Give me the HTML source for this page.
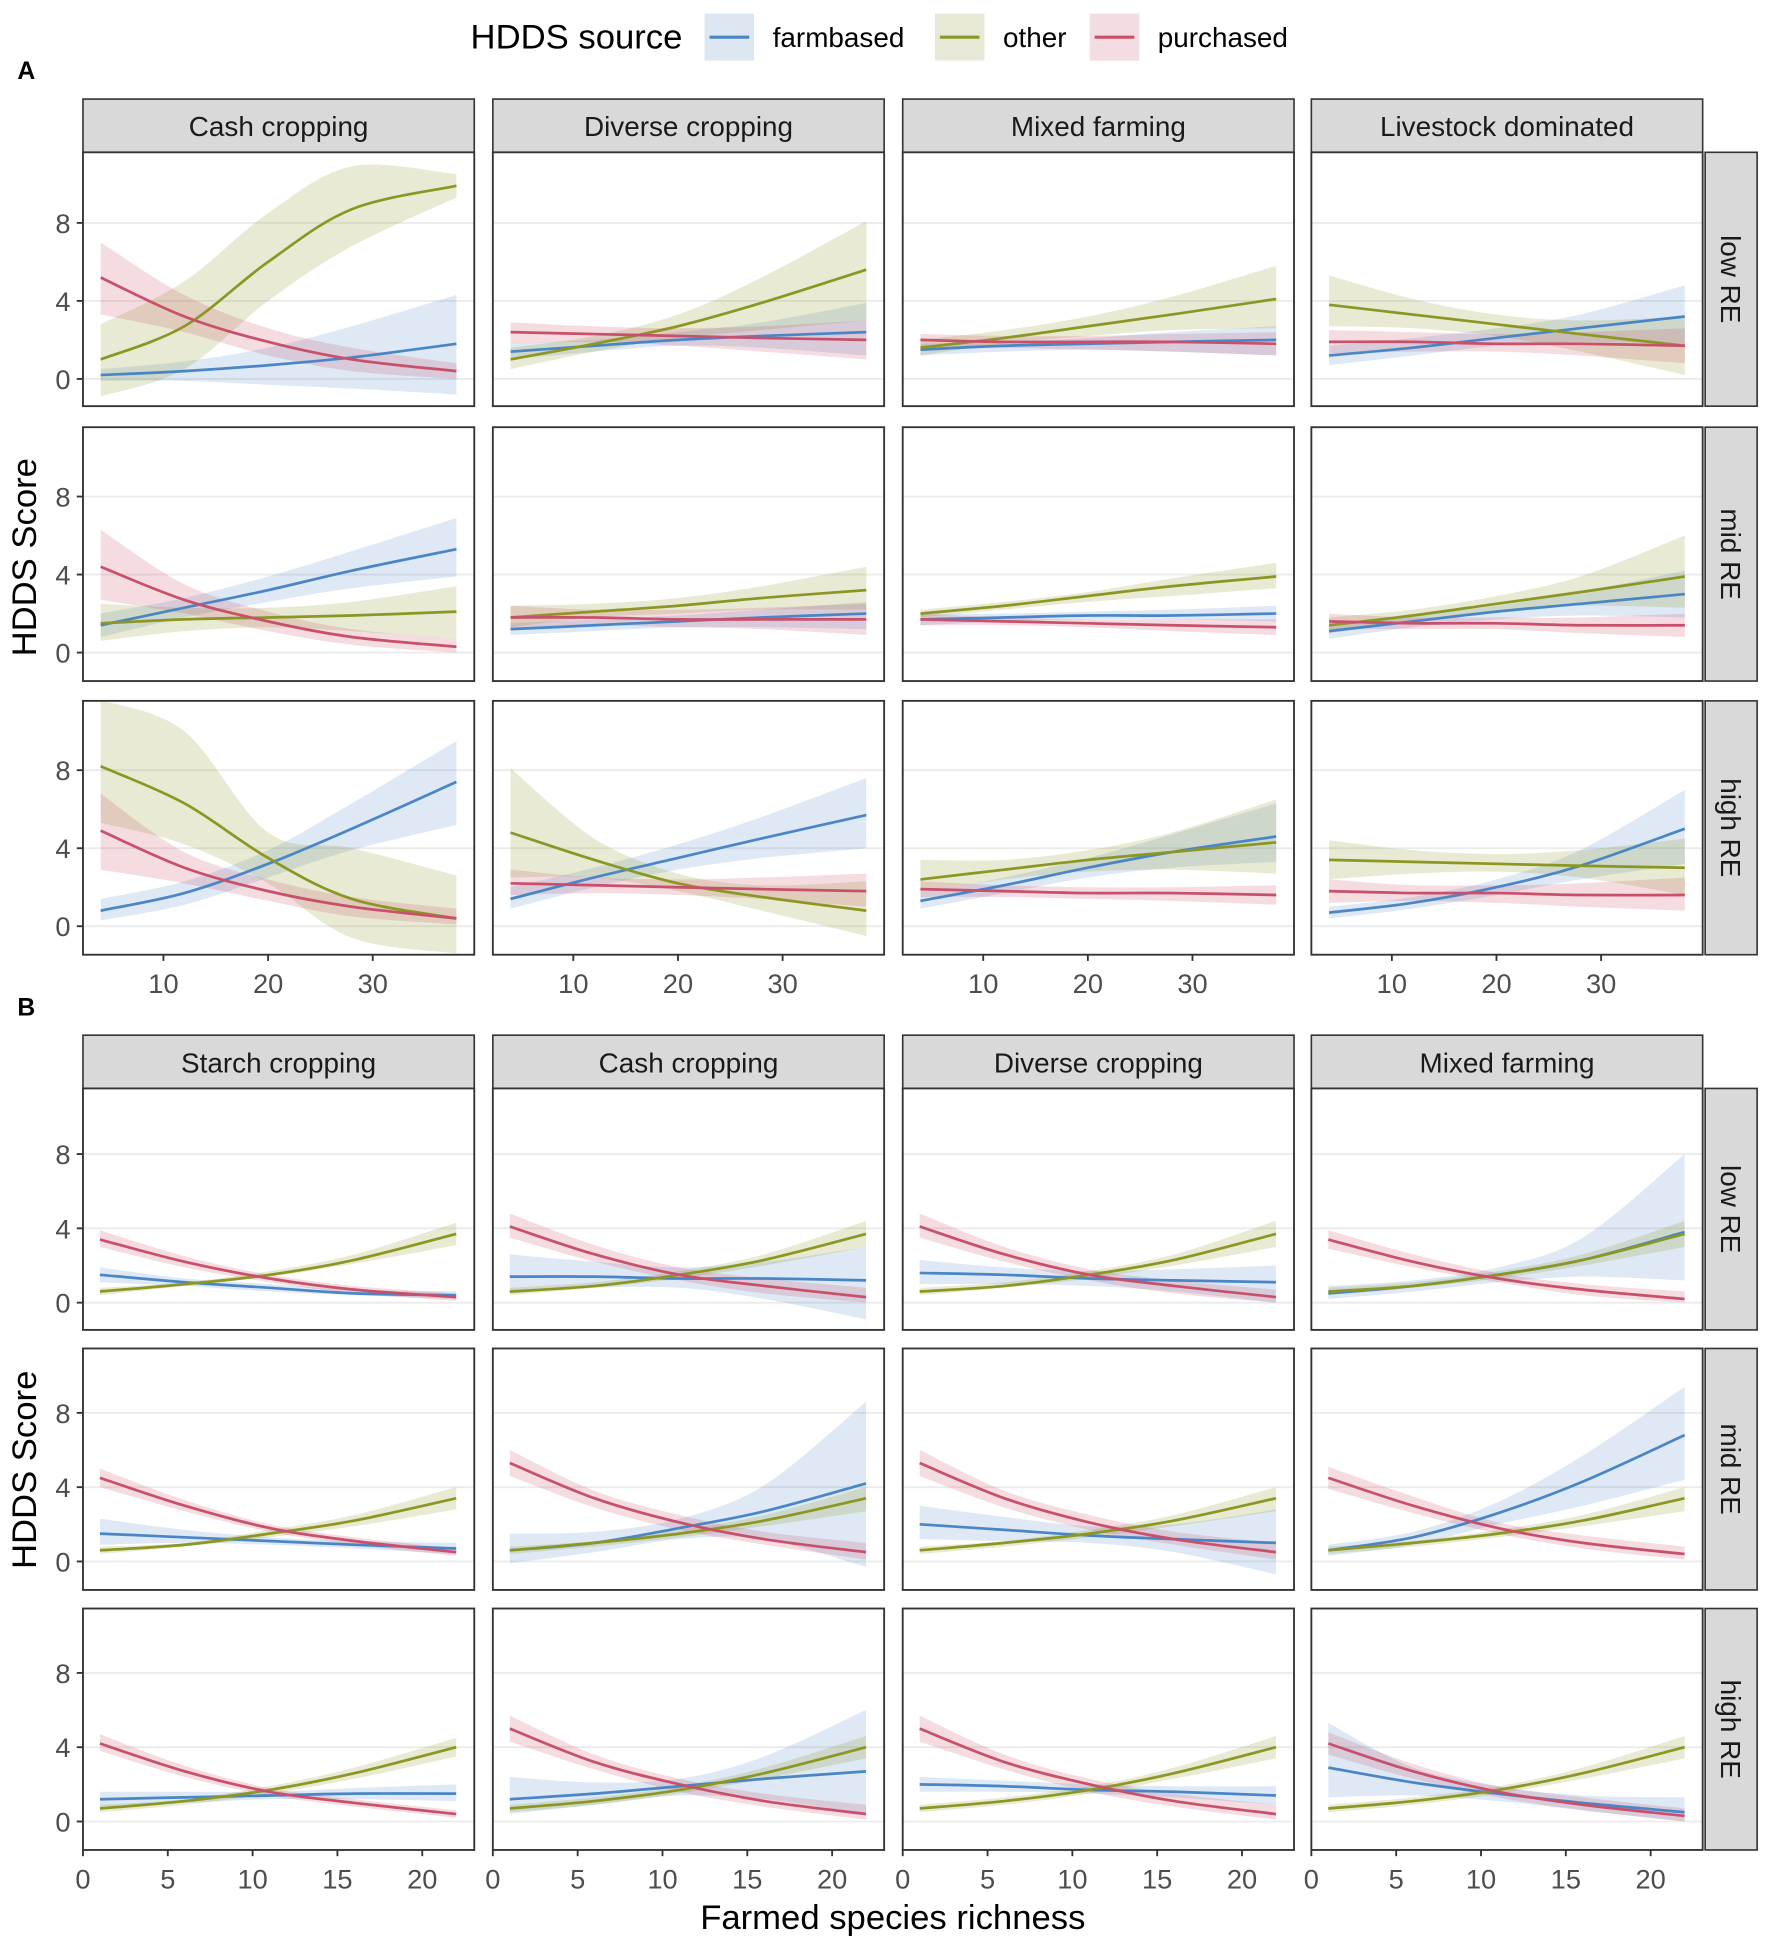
<!DOCTYPE html>
<html><head><meta charset="utf-8">
<style>
html,body{margin:0;padding:0;background:#fff;}
svg{display:block;font-family:"Liberation Sans",Arial,sans-serif;}
</style></head>
<body>
<svg id="chart" width="1772" height="1940" viewBox="0 0 1431 1566.7" preserveAspectRatio="none" xmlns="http://www.w3.org/2000/svg">
<g id="legend">
  <text x="380" y="39" font-size="28" fill="#000">HDDS source</text>
  <g>
    <rect x="569" y="11" width="40" height="38" fill="#dde7f2"/>
    <line x1="573" y1="30" x2="605" y2="30" stroke="#4a86c5" stroke-width="2.5"/>
    <text x="624" y="38" font-size="22.5" fill="#000">farmbased</text>
  </g>
  <g>
    <rect x="755" y="11" width="40" height="38" fill="#e8e8d6"/>
    <line x1="759" y1="30" x2="791" y2="30" stroke="#8c9623" stroke-width="2.5"/>
    <text x="810" y="38" font-size="22.5" fill="#000">other</text>
  </g>
  <g>
    <rect x="880" y="11" width="40" height="38" fill="#f4dde2"/>
    <line x1="884" y1="30" x2="916" y2="30" stroke="#c9506b" stroke-width="2.5"/>
    <text x="935" y="38" font-size="22.5" fill="#000">purchased</text>
  </g>
</g>
<text x="14" y="64" font-size="20" font-weight="bold">A</text>
<text x="14" y="820" font-size="20" font-weight="bold">B</text>
<text transform="translate(29,450) rotate(-90)" text-anchor="middle" font-size="28">HDDS Score</text>
<text transform="translate(29,1187) rotate(-90)" text-anchor="middle" font-size="28">HDDS Score</text>
<text x="721" y="1558" text-anchor="middle" font-size="28">Farmed species richness</text>
<g id="plots"></g>
</svg>
<script>
// ---- Data ----
const rowLabels = ["low RE","mid RE","high RE"];
const colsA = ["Cash cropping","Diverse cropping","Mixed farming","Livestock dominated"];
const colsB = ["Starch cropping","Cash cropping","Diverse cropping","Mixed farming"];
const xA = [4,12,20,28,38];
const xB = [1,6,11,16,22];
const xTicksA = [10,20,30];
const xTicksB = [0,5,10,15,20];
const yTicks = [0,4,8];
// panel order: row-major (low: c1..c4, mid: c1..c4, high: c1..c4)
const meanAFarm = [
 [0.2,0.4,0.7,1.1,1.8],[1.4,1.7,2.0,2.2,2.4],[1.5,1.7,1.8,1.9,2.0],[1.2,1.6,2.1,2.6,3.2],
 [1.4,2.3,3.2,4.2,5.3],[1.2,1.4,1.6,1.8,2.0],[1.7,1.8,1.9,1.9,2.0],[1.1,1.6,2.1,2.5,3.0],
 [0.8,1.7,3.2,5.0,7.4],[1.4,2.5,3.5,4.5,5.7],[1.3,2.1,3.0,3.8,4.6],[0.7,1.2,2.0,3.1,5.0]];
const loAFarm = [
 [-0.1,-0.1,-0.3,-0.5,-0.8],[1.0,1.4,1.7,1.6,1.2],[1.2,1.4,1.5,1.4,1.2],[0.7,1.2,1.7,1.9,1.8],
 [0.8,1.8,2.6,3.3,3.9],[0.9,1.1,1.3,1.3,1.2],[1.4,1.6,1.7,1.7,1.6],[0.7,1.3,1.7,1.9,1.8],
 [0.3,1.1,2.5,3.9,5.2],[0.9,2.0,2.9,3.5,4.0],[0.9,1.7,2.5,3.0,3.3],[0.4,0.9,1.6,2.4,3.2]];
const hiAFarm = [
 [0.5,0.9,1.6,2.7,4.3],[1.8,2.0,2.4,2.9,3.9],[1.8,1.9,2.1,2.4,2.7],[1.7,2.1,2.6,3.3,4.8],
 [2.0,2.8,3.9,5.2,6.9],[1.5,1.7,1.9,2.2,2.6],[2.0,2.0,2.1,2.2,2.4],[1.5,1.9,2.4,3.1,4.2],
 [1.4,2.3,3.9,6.3,9.5],[2.0,3.0,4.2,5.6,7.6],[1.7,2.5,3.5,4.7,6.3],[1.0,1.5,2.4,3.9,7.0]];
const meanAOther = [
 [1.0,2.7,6.0,8.7,9.9],[1.0,1.8,2.7,3.9,5.6],[1.6,2.1,2.7,3.3,4.1],[3.8,3.3,2.8,2.3,1.7],
 [1.5,1.7,1.8,1.9,2.1],[1.8,2.1,2.4,2.8,3.2],[2.0,2.4,2.9,3.4,3.9],[1.4,1.9,2.5,3.1,3.9],
 [8.2,6.3,3.5,1.4,0.4],[4.8,3.4,2.2,1.5,0.8],[2.4,2.9,3.4,3.8,4.3],[3.4,3.3,3.2,3.1,3.0]];
const loAOther = [
 [-0.9,0.5,4.0,6.8,9.3],[0.5,1.4,2.1,2.5,3.0],[1.2,1.8,2.2,2.5,2.6],[2.7,2.6,2.2,1.4,0.2],
 [0.6,1.1,1.3,1.1,0.7],[1.3,1.8,2.0,2.2,2.2],[1.8,2.2,2.6,2.9,3.3],[1.0,1.6,2.1,2.4,2.3],
 [5.3,4.2,2.2,-0.6,-1.4],[2.5,2.5,1.8,0.8,-0.5],[1.7,2.4,2.8,2.9,2.7],[2.4,2.7,2.8,2.5,1.6]];
const hiAOther = [
 [2.8,5.0,8.5,10.9,10.5],[1.6,2.2,3.3,5.2,8.1],[2.0,2.5,3.2,4.2,5.8],[5.3,4.1,3.3,3.0,3.2],
 [2.5,2.3,2.3,2.6,3.4],[2.4,2.5,2.8,3.4,4.4],[2.2,2.6,3.1,3.8,4.6],[1.8,2.2,2.9,3.9,6.0],
 [11.6,10.0,4.8,4.0,2.6],[8.1,4.5,2.7,2.1,2.3],[3.4,3.4,3.9,4.8,6.5],[4.4,3.9,3.7,3.9,4.5]];
const meanAPurch = [
 [5.2,3.2,1.9,1.0,0.4],[2.4,2.3,2.2,2.1,2.0],[2.0,1.9,1.9,1.9,1.8],[1.9,1.9,1.8,1.8,1.7],
 [4.4,2.7,1.6,0.8,0.3],[1.8,1.8,1.7,1.7,1.7],[1.7,1.6,1.5,1.4,1.3],[1.6,1.5,1.5,1.4,1.4],
 [4.9,3.0,1.8,1.0,0.4],[2.2,2.1,2.0,1.9,1.8],[1.9,1.8,1.7,1.7,1.6],[1.8,1.7,1.7,1.6,1.6]];
const loAPurch = [
 [3.3,2.4,1.2,0.4,0.0],[1.8,1.9,1.7,1.4,1.0],[1.6,1.6,1.5,1.4,1.2],[1.3,1.4,1.4,1.2,0.8],
 [2.7,2.0,1.1,0.4,0.0],[1.2,1.4,1.3,1.2,0.9],[1.4,1.4,1.3,1.1,0.9],[1.2,1.2,1.2,1.0,0.8],
 [2.9,2.2,1.3,0.5,0.1],[1.6,1.7,1.6,1.4,1.0],[1.5,1.5,1.4,1.3,1.1],[1.2,1.3,1.2,1.0,0.8]];
const hiAPurch = [
 [7.0,4.3,2.6,1.6,0.8],[2.9,2.7,2.6,2.7,3.0],[2.3,2.2,2.2,2.3,2.4],[2.5,2.4,2.3,2.4,2.6],
 [6.3,3.5,2.1,1.2,0.7],[2.4,2.2,2.2,2.3,2.5],[2.0,1.8,1.7,1.7,1.7],[2.0,1.8,1.8,1.8,2.0],
 [6.8,3.8,2.4,1.5,0.9],[2.9,2.5,2.4,2.5,2.7],[2.3,2.1,2.0,2.0,2.1],[2.4,2.1,2.1,2.2,2.5]];
const meanBFarm = [
 [1.5,1.1,0.8,0.5,0.4],[1.4,1.4,1.3,1.3,1.2],[1.6,1.5,1.3,1.2,1.1],[0.5,0.9,1.5,2.3,3.8],
 [1.5,1.3,1.1,0.9,0.7],[0.6,1.0,1.8,2.7,4.2],[2.0,1.7,1.4,1.2,1.0],[0.6,1.3,2.6,4.3,6.8],
 [1.2,1.3,1.4,1.5,1.5],[1.2,1.5,1.9,2.3,2.7],[2.0,1.9,1.7,1.6,1.4],[2.9,2.1,1.5,1.0,0.5]];
const loBFarm = [
 [1.1,0.9,0.6,0.4,0.2],[0.5,0.8,0.8,0.2,-0.9],[1.0,1.0,0.9,0.6,0.0],[0.2,0.6,1.1,1.4,1.2],
 [0.9,1.0,0.9,0.7,0.4],[-0.1,0.5,1.2,1.2,-0.3],[1.2,1.1,1.0,0.5,-0.7],[0.3,0.9,2.0,3.0,4.4],
 [0.8,1.0,1.2,1.2,1.1],[0.4,0.9,1.4,1.2,0.4],[1.6,1.6,1.5,1.3,0.9],[1.3,1.4,1.1,0.6,0.0]];
const hiBFarm = [
 [1.9,1.3,1.0,0.7,0.6],[2.6,2.2,1.9,2.2,3.0],[2.3,1.9,1.7,1.8,2.0],[0.9,1.2,1.9,3.5,8.0],
 [2.3,1.7,1.3,1.1,1.0],[1.5,1.6,2.3,4.1,8.6],[3.0,2.4,1.9,2.0,2.8],[0.9,1.6,3.2,5.7,9.4],
 [1.6,1.6,1.6,1.8,2.0],[2.4,2.1,2.3,3.5,6.0],[2.4,2.2,2.0,1.9,1.9],[5.3,2.9,1.9,1.4,1.3]];
const meanBOther = [
 [0.6,1.0,1.5,2.3,3.7],[0.6,0.9,1.5,2.3,3.7],[0.6,0.9,1.5,2.3,3.7],[0.6,0.9,1.5,2.3,3.7],
 [0.6,0.9,1.5,2.2,3.4],[0.6,1.0,1.5,2.2,3.4],[0.6,1.0,1.5,2.2,3.4],[0.6,1.0,1.5,2.2,3.4],
 [0.7,1.1,1.7,2.6,4.0],[0.7,1.1,1.7,2.6,4.0],[0.7,1.1,1.7,2.6,4.0],[0.7,1.1,1.7,2.6,4.0]];
const loBOther = [
 [0.4,0.9,1.4,2.1,3.1],[0.4,0.8,1.3,2.0,3.0],[0.4,0.8,1.3,2.0,3.0],[0.4,0.8,1.3,2.0,3.0],
 [0.4,0.8,1.3,1.9,2.8],[0.4,0.8,1.3,1.9,2.7],[0.4,0.8,1.3,1.9,2.7],[0.4,0.8,1.3,1.9,2.7],
 [0.5,0.9,1.5,2.3,3.5],[0.5,0.9,1.5,2.3,3.4],[0.5,0.9,1.5,2.3,3.4],[0.5,0.9,1.5,2.3,3.4]];
const hiBOther = [
 [0.8,1.1,1.7,2.6,4.3],[0.8,1.1,1.7,2.6,4.4],[0.8,1.1,1.7,2.6,4.4],[0.8,1.1,1.7,2.6,4.4],
 [0.8,1.0,1.7,2.5,4.0],[0.8,1.1,1.7,2.5,4.0],[0.8,1.1,1.7,2.5,4.0],[0.8,1.1,1.7,2.5,4.0],
 [0.9,1.2,1.9,2.9,4.5],[0.9,1.3,1.9,2.9,4.6],[0.9,1.3,1.9,2.9,4.6],[0.9,1.3,1.9,2.9,4.6]];
const meanBPurch = [
 [3.4,2.2,1.3,0.7,0.3],[4.1,2.6,1.5,0.9,0.3],[4.1,2.6,1.5,0.9,0.3],[3.4,2.2,1.3,0.7,0.2],
 [4.5,3.0,1.8,1.1,0.5],[5.3,3.4,2.1,1.2,0.5],[5.3,3.4,2.1,1.2,0.5],[4.5,3.0,1.8,1.0,0.4],
 [4.2,2.7,1.6,1.0,0.4],[5.0,3.2,2.0,1.1,0.4],[5.0,3.2,2.0,1.1,0.4],[4.2,2.7,1.6,0.9,0.3]];
const loBPurch = [
 [3.0,1.9,1.1,0.5,0.1],[3.5,2.2,1.2,0.5,0.0],[3.5,2.2,1.2,0.5,0.0],[2.9,1.9,1.1,0.4,0.0],
 [4.0,2.7,1.6,0.9,0.3],[4.6,2.9,1.7,0.9,0.1],[4.6,2.9,1.7,0.9,0.1],[3.9,2.6,1.5,0.7,0.1],
 [3.8,2.4,1.4,0.8,0.2],[4.3,2.8,1.6,0.8,0.1],[4.3,2.8,1.6,0.8,0.1],[3.6,2.3,1.3,0.6,0.0]];
const hiBPurch = [
 [3.9,2.5,1.5,0.9,0.5],[4.8,3.1,1.9,1.3,0.8],[4.8,3.0,1.8,1.2,0.7],[3.9,2.6,1.6,1.0,0.6],
 [5.0,3.3,2.0,1.3,0.7],[6.0,3.8,2.5,1.6,1.0],[6.0,3.8,2.5,1.6,1.0],[5.1,3.5,2.1,1.4,0.8],
 [4.7,3.0,1.8,1.2,0.6],[5.7,3.6,2.3,1.5,0.9],[5.7,3.6,2.3,1.5,0.9],[4.8,3.1,1.9,1.3,0.7]];

// ---- Layout ----
const NS = "http://www.w3.org/2000/svg";
const colX = [67,398,729,1059];
const panelW = 316;
const colors = {farm:"#4a86c5", other:"#8c9623", purch:"#c9506b"};
const fills = {farm:"rgba(74,134,197,0.18)", other:"rgba(140,150,35,0.2)", purch:"rgba(201,80,107,0.2)"};
const blocks = [
 {id:"a", cols:colsA, xs:xA, xTicks:xTicksA, x0:-19.5, xScale:8.45, stripTop:80, tops:[123,345,566], h:205, zeroY:[306,527,748], yScale:15.75,
  series:{farm:[meanAFarm,loAFarm,hiAFarm], other:[meanAOther,loAOther,hiAOther], purch:[meanAPurch,loAPurch,hiAPurch]}},
 {id:"b", cols:colsB, xs:xB, xTicks:xTicksB, x0:0, xScale:13.7, stripTop:836, tops:[879,1089,1299], h:195, zeroY:[1052,1261,1471], yScale:15,
  series:{farm:[meanBFarm,loBFarm,hiBFarm], other:[meanBOther,loBOther,hiBOther], purch:[meanBPurch,loBPurch,hiBPurch]}}
];
const root = document.getElementById("plots");
function mk(tag, attrs, parent){const e=document.createElementNS(NS,tag);for(const k in attrs)e.setAttribute(k,attrs[k]);(parent||root).appendChild(e);return e;}
function smooth(pts){
  let d="M"+pts[0][0]+","+pts[0][1];
  for(let i=0;i<pts.length-1;i++){
    const p0=pts[Math.max(i-1,0)],p1=pts[i],p2=pts[i+1],p3=pts[Math.min(i+2,pts.length-1)];
    const c1=[p1[0]+(p2[0]-p0[0])/6,p1[1]+(p2[1]-p0[1])/6];
    const c2=[p2[0]-(p3[0]-p1[0])/6,p2[1]-(p3[1]-p1[1])/6];
    d+=" C"+c1[0]+","+c1[1]+" "+c2[0]+","+c2[1]+" "+p2[0]+","+p2[1];
  }
  return d;
}
function smoothCont(pts){return smooth(pts).replace(/^M/,"L");}
const defs = mk("defs",{});
blocks.forEach(b=>{
  b.cols.forEach((name,c)=>{
    const g=mk("g",{});
    
    
    mk("rect",{x:colX[c],y:b.stripTop,width:panelW,height:b.tops[0]-b.stripTop,fill:"#d9d9d9",stroke:"#333",'stroke-width':1.3},g);
    const t=mk("text",{x:colX[c]+panelW/2,y:b.stripTop+30,'text-anchor':'middle','font-size':22.5,fill:'#1a1a1a'},g);
    t.textContent=name;
  });
  b.tops.forEach((top,r)=>{
    const zy=b.zeroY[r];
    const ys=v=>zy-v*b.yScale;
    const rs=mk("g",{});
    
    
    mk("rect",{x:1377,y:top,width:42,height:b.h,fill:"#d9d9d9",stroke:"#333",'stroke-width':1.3},rs);
    const rt=mk("text",{transform:"translate(1390,"+(top+b.h/2)+") rotate(90)",'text-anchor':'middle','font-size':22.5,fill:'#1a1a1a'},rs);
    rt.textContent=rowLabels[r];
    b.cols.forEach((name,c)=>{
      const idx=r*4+c;
      const px=colX[c];
      const xs=v=>px+b.x0+v*b.xScale;
      const cid="clip-"+b.id+"-"+idx;
      const cp=mk("clipPath",{id:cid},defs);
      mk("rect",{x:px,y:top,width:panelW,height:b.h},cp);
      const g=mk("g",{});
      
      
      mk("rect",{x:px,y:top,width:panelW,height:b.h,fill:"#fff"},g);
      yTicks.forEach(t=>{mk("line",{x1:px,x2:px+panelW,y1:ys(t),y2:ys(t),stroke:"#ebebeb",'stroke-width':1.5},g);});
      const inner=mk("g",{'clip-path':'url(#'+cid+')'},g);
      ["farm","other","purch"].forEach(s=>{
        const [m,lo,hi]=b.series[s];
        const up=b.xs.map((x,i)=>[xs(x),ys(hi[idx][i])]);
        const dn=b.xs.map((x,i)=>[xs(x),ys(lo[idx][i])]).reverse();
        const rib=mk("path",{d:smooth(up)+" "+smoothCont(dn)+" Z",fill:fills[s],stroke:"none"},inner);
        
        
      });
      ["farm","other","purch"].forEach(s=>{
        const m=b.series[s][0];
        const pts=b.xs.map((x,i)=>[xs(x),ys(m[idx][i])]);
        const ln=mk("path",{d:smooth(pts),fill:"none",stroke:colors[s],'stroke-width':2.2},inner);
        
        
      });
      mk("rect",{x:px,y:top,width:panelW,height:b.h,fill:"none",stroke:"#333",'stroke-width':1.5},g);
      if(c===0){
        yTicks.forEach(t=>{
          mk("line",{x1:px-5,x2:px,y1:ys(t),y2:ys(t),stroke:"#333",'stroke-width':1.5});
          const tl=mk("text",{x:px-10,y:ys(t)+8,'text-anchor':'end','font-size':22,fill:'#4d4d4d'});
          
          
          tl.textContent=t;
        });
      }
      if(r===2){
        b.xTicks.forEach(t=>{
          mk("line",{x1:xs(t),x2:xs(t),y1:top+b.h,y2:top+b.h+5,stroke:"#333",'stroke-width':1.5});
          const tl=mk("text",{x:xs(t),y:top+b.h+31,'text-anchor':'middle','font-size':22,fill:'#4d4d4d'});
          
          
          tl.textContent=t;
        });
      }
    });
  });
});
</script>
</body></html>
